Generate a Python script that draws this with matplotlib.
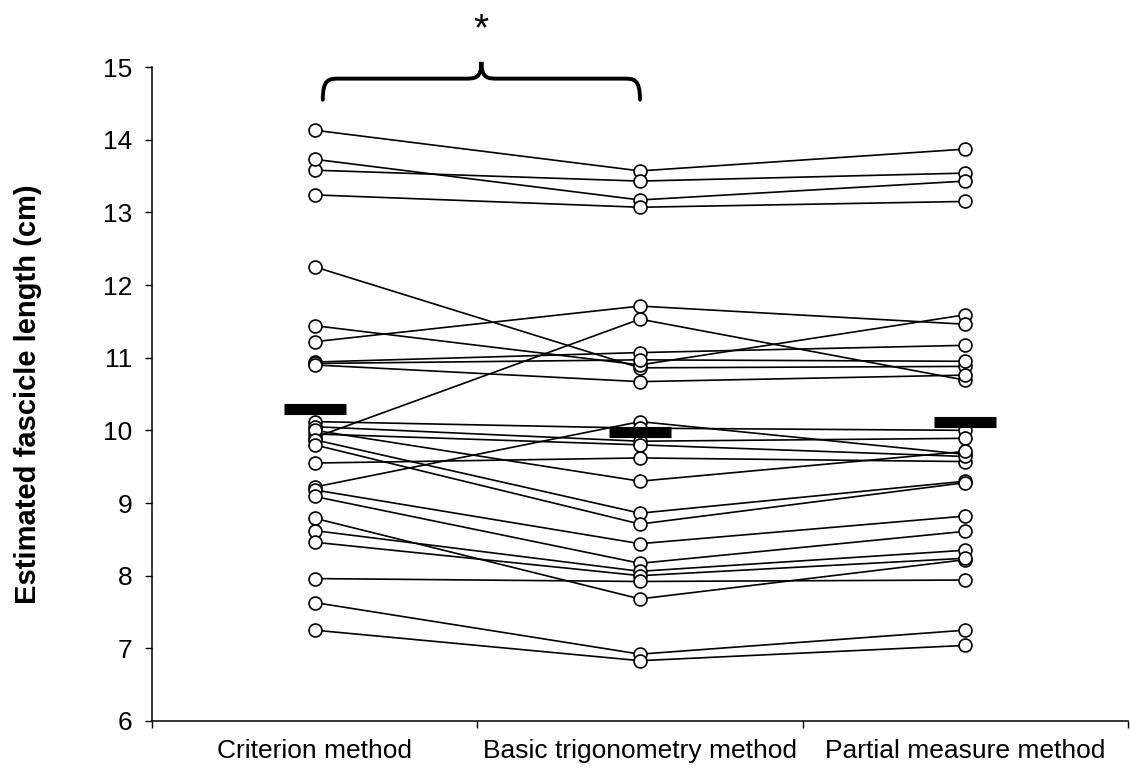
"""Paired fascicle length estimates for three methods, with group means."""

import matplotlib

matplotlib.use("Agg")
import matplotlib.pyplot as plt
import numpy as np
from matplotlib.patches import PathPatch
from matplotlib.path import Path

methods = ["Criterion method", "Basic trigonometry method", "Partial measure method"]

# one entry per subject, same order in every list
criterion = [14.13, 13.58, 13.73, 13.24, 12.25, 11.44, 11.22, 9.90, 10.94, 10.92, 10.90,
             9.22, 10.12, 10.05, 9.55, 9.95, 10.00, 9.87, 9.80, 9.18, 9.09, 8.79,
             8.62, 8.46, 7.96, 7.63, 7.25]
basic = [13.57, 13.43, 13.17, 13.07, 10.86, 10.90, 11.71, 11.53, 11.07, 10.97, 10.67,
         10.12, 10.03, 9.85, 9.62, 9.80, 9.30, 8.86, 8.71, 8.44, 8.17, 7.68,
         8.06, 8.00, 7.92, 6.92, 6.83]
partial = [13.87, 13.54, 13.43, 13.15, 10.88, 11.59, 11.46, 10.69, 11.17, 10.95, 10.76,
           9.67, 10.00, 9.89, 9.57, 9.64, 9.71, 9.30, 9.28, 8.82, 8.61, 8.22,
           8.35, 8.24, 7.94, 7.25, 7.04]

plt.rcParams["font.family"] = ["Liberation Sans", "DejaVu Sans"]

values = np.array([criterion, basic, partial])
xs = np.arange(len(methods))
means = values.mean(axis=1)

fig = plt.figure(figsize=(11.3, 7.69), dpi=100)
ax = fig.add_axes([152 / 1130, 48 / 769, 976 / 1130, 654 / 769])

ax.plot(xs, values, color="black", linewidth=1.2, zorder=1)
for col in range(len(methods)):
    ax.plot(np.full(values.shape[1], xs[col]), values[col], linestyle="none", marker="o",
            markersize=9.3, markerfacecolor="white", markeredgecolor="black",
            markeredgewidth=1.2, zorder=2)
ax.hlines(means, xs - 0.095, xs + 0.095, color="black", linewidth=8, zorder=3)

ax.set_xlim(-0.5, 2.5)
ax.set_ylim(6, 15)
ax.set_yticks(range(6, 16))
ax.set_xticks(xs)
ax.set_xticklabels(methods)
ax.set_xticks(np.arange(-0.5, 2.6, 1.0), minor=True)
ax.tick_params(axis="x", which="major", length=0, pad=13, labelsize=19)
ax.tick_params(axis="x", which="minor", length=5, width=1, direction="out")
ax.tick_params(axis="y", length=5, width=1, pad=9, labelsize=19)
for side in ("top", "right"):
    ax.spines[side].set_visible(False)
for side in ("left", "bottom"):
    ax.spines[side].set_linewidth(1.1)
ax.set_ylabel("Estimated fascicle length (cm)", fontsize=21, fontweight="bold")
ax.yaxis.set_label_coords(-0.113, 0.5)

# brace over the first two methods, with the significance mark
x0, x1 = xs[0] + 0.025, xs[1]
xm = (x0 + x1) / 2
y_end, y_bar, y_tip = 14.55, 14.84, 15.07
brace = Path(
    [(x0, y_end), (x0, y_bar), (x0 + 0.02, y_bar), (x0 + 0.05, y_bar),
     (xm - 0.05, y_bar),
     (xm - 0.02, y_bar), (xm, y_bar), (xm, y_tip),
     (xm, y_bar), (xm + 0.02, y_bar), (xm + 0.05, y_bar),
     (x1 - 0.05, y_bar),
     (x1 - 0.02, y_bar), (x1, y_bar), (x1, y_end)],
    [Path.MOVETO, Path.CURVE4, Path.CURVE4, Path.CURVE4,
     Path.LINETO,
     Path.CURVE4, Path.CURVE4, Path.CURVE4,
     Path.CURVE4, Path.CURVE4, Path.CURVE4,
     Path.LINETO,
     Path.CURVE4, Path.CURVE4, Path.CURVE4],
)
ax.add_patch(PathPatch(brace, facecolor="none", edgecolor="black", linewidth=2.8,
                       clip_on=False, capstyle="round"))
ax.text(xm, 15.5, "*", ha="center", va="center", fontsize=28, clip_on=False)

fig.savefig("out.png", dpi=100)
plt.close(fig)
